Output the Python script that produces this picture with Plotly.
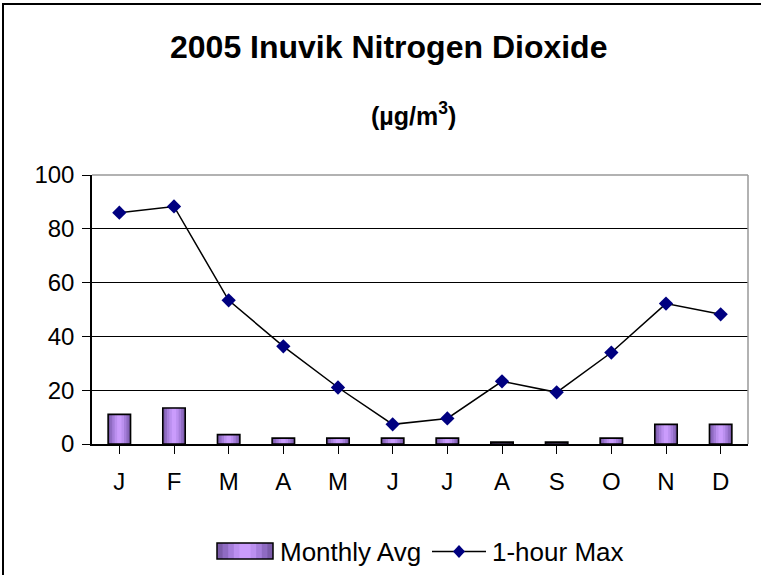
import plotly.graph_objects as go

months = ["J", "F", "M", "A", "M", "J", "J", "A", "S", "O", "N", "D"]
monthly_avg = [11, 13.4, 3.5, 2.2, 2.2, 2.2, 2.2, 0.7, 0.7, 2.2, 7.3, 7.3]
hour_max = [86, 88.3, 53.4, 36.3, 21, 7.3, 9.5, 23.3, 19.2, 34, 52.2, 48.2]
yticks = [0, 20, 40, 60, 80, 100]

x = list(range(len(months)))
FONT = "Liberation Sans, Arial, sans-serif"

W, H = 761, 575
L, R, T, B = 92, 13, 175, 131
PW, PH = W - L - R, H - T - B


def px(v):
    return (v - L) / PW


def py(v):
    return (H - B - v) / PH


fig = go.Figure()
# simulated horizontal gradient on bars: dark edges, light centre
layers = [(0.41, "#7B5BA9"), (0.34, "#8F6BC2"), (0.26, "#A67EDB"), (0.17, "#BB90EF"), (0.08, "#CA9CFC")]
for w, c in layers:
    fig.add_trace(go.Bar(x=x, y=monthly_avg, width=w, name="Monthly Avg",
                         marker=dict(color=c, line=dict(width=0)), showlegend=False,
                         hoverinfo="skip"))
fig.add_trace(go.Bar(x=x, y=monthly_avg, width=0.41, name="Monthly Avg",
                     marker=dict(color="rgba(0,0,0,0)", line=dict(color="black", width=1.6)),
                     showlegend=False))
fig.add_trace(go.Scatter(
    x=x, y=hour_max, name="1-hour Max", mode="lines+markers",
    line=dict(color="black", width=1.5),
    marker=dict(symbol="diamond", size=11, color="#000080", line=dict(width=0)),
    showlegend=False,
))

shapes = [
    # outer chart frame
    dict(type="rect", xref="paper", yref="paper", x0=px(3), x1=px(775), y0=py(590), y1=py(4),
         line=dict(color="black", width=2), layer="below"),
    # grey top and right plot border
    dict(type="line", xref="paper", yref="paper", x0=0, x1=1, y0=1, y1=1,
         line=dict(color="#999999", width=1.5), layer="above"),
    dict(type="line", xref="paper", yref="paper", x0=1, x1=1, y0=0, y1=1,
         line=dict(color="#999999", width=1.5), layer="above"),
]

# legend: bar swatch with gradient
lx0, lx1, ly0, ly1 = 217, 273, 543, 559
cx = (lx0 + lx1) / 2
half = (lx1 - lx0) / 2
for frac, c in [(1.0, "#7B5BA9"), (0.8, "#8F6BC2"), (0.6, "#A67EDB"), (0.4, "#BB90EF"), (0.2, "#CA9CFC")]:
    shapes.append(dict(type="rect", xref="paper", yref="paper",
                       x0=px(cx - half * frac), x1=px(cx + half * frac),
                       y0=py(ly1), y1=py(ly0), line=dict(width=0), fillcolor=c))
shapes.append(dict(type="rect", xref="paper", yref="paper", x0=px(lx0), x1=px(lx1),
                   y0=py(ly1), y1=py(ly0), line=dict(color="black", width=1.5)))
# legend: line with diamond
ly = 551.5
shapes.append(dict(type="line", xref="paper", yref="paper", x0=px(432), x1=px(486),
                   y0=py(ly), y1=py(ly), line=dict(color="black", width=1.5)))
dx, dy, dcx = 6, 6.5, 459
shapes.append(dict(type="path", xref="paper", yref="paper",
                   path=(f"M {px(dcx - dx)} {py(ly)} L {px(dcx)} {py(ly - dy)} "
                         f"L {px(dcx + dx)} {py(ly)} L {px(dcx)} {py(ly + dy)} Z"),
                   fillcolor="#000080", line=dict(width=0)))

annotations = [
    dict(text="<b>2005 Inuvik Nitrogen Dioxide</b>", x=px(388), y=py(47), yanchor="middle",
         xref="paper", yref="paper", showarrow=False, font=dict(size=32)),
    dict(text="<b>(µg/m<sup>3</sup>)</b>", x=px(413), y=py(114), yanchor="middle",
         xref="paper", yref="paper", showarrow=False, font=dict(size=25)),
    dict(text="Monthly Avg", x=px(278), y=py(ly), xanchor="left", yanchor="middle",
         xref="paper", yref="paper", showarrow=False, font=dict(size=26)),
    dict(text="1-hour Max", x=px(490), y=py(ly), xanchor="left", yanchor="middle",
         xref="paper", yref="paper", showarrow=False, font=dict(size=26)),
]

fig.update_layout(
    width=W, height=H,
    margin=dict(l=L, r=R, t=T, b=B, autoexpand=False),
    paper_bgcolor="white", plot_bgcolor="white",
    font=dict(family=FONT, size=24, color="black"),
    showlegend=False,
    barmode="overlay",
    xaxis=dict(
        tickmode="array", tickvals=x, ticktext=months, range=[-0.5, 11.5],
        showgrid=False, ticks="outside", ticklen=8, tickcolor="black", tickwidth=1.2,
        tickson="boundaries", ticklabelstandoff=7,
        showline=True, linecolor="black", linewidth=1.5, zeroline=False,
        tickfont=dict(size=24),
    ),
    yaxis=dict(
        range=[0, 100], tickvals=yticks, showgrid=True, gridcolor="black", gridwidth=1,
        ticks="outside", ticklen=8, tickcolor="black", tickwidth=1.2, ticklabelstandoff=3,
        showline=True, linecolor="black", linewidth=1.5, zeroline=False,
        tickfont=dict(size=24),
    ),
    annotations=annotations,
    shapes=shapes,
)

fig.write_html("out.html", config={"displayModeBar": False},
               post_script="document.body.style.margin='0';")
